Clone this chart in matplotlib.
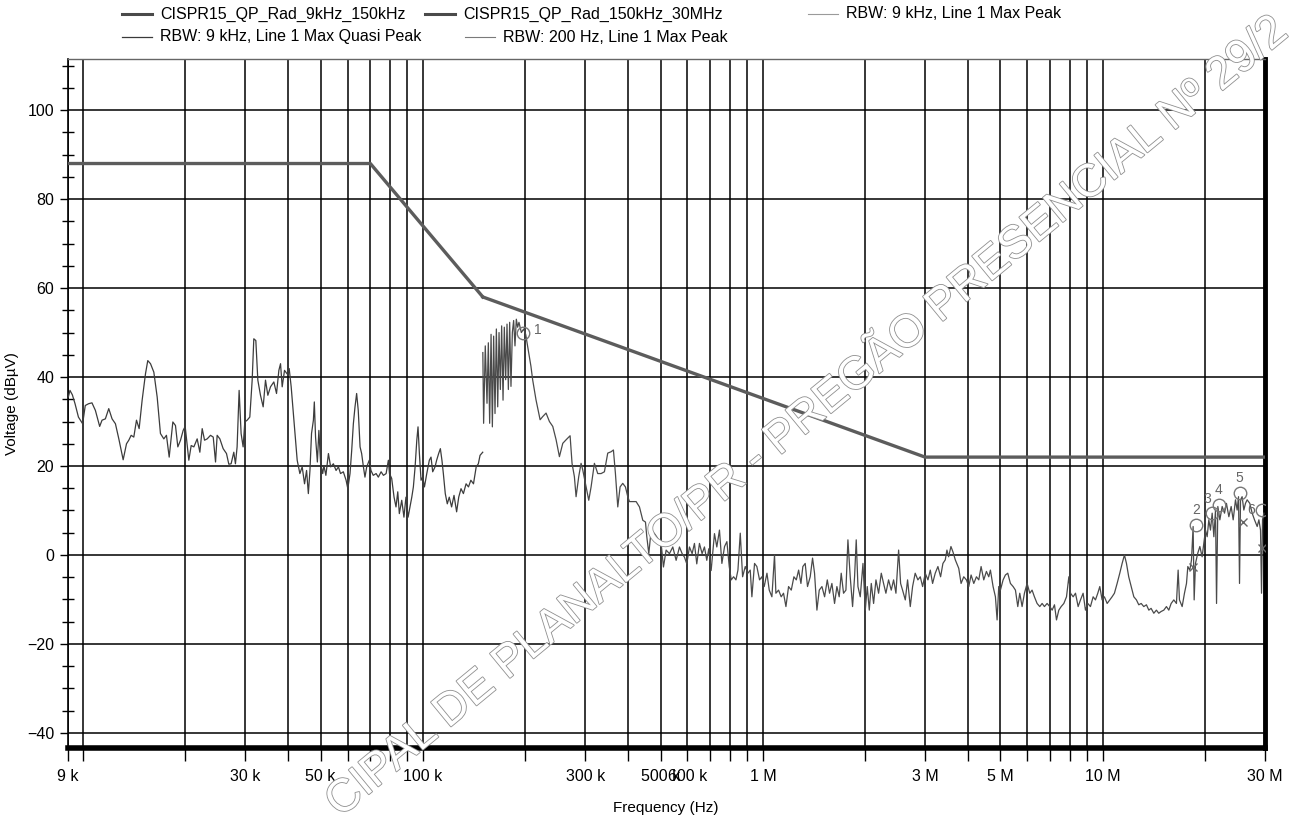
import numpy as np
import matplotlib
matplotlib.use("Agg")
import matplotlib.pyplot as plt
from matplotlib.lines import Line2D
from matplotlib.ticker import FixedLocator, FixedFormatter, MultipleLocator
import matplotlib.patheffects as pe

plt.rcParams['font.family'] = ['Liberation Sans Narrow', 'Liberation Sans', 'DejaVu Sans']

# limit lines (kHz, dBuV)
lim1_f = [9, 70, 150]
lim1_v = [88, 88, 58]
lim2_f = [150, 3000, 30000]
lim2_v = [58, 22, 22]

# RBW 200 Hz peak trace, 9 kHz - 150 kHz
pk200_f = [9.05, 9.15, 9.3, 9.47, 9.69, 9.97, 10.15, 10.38, 10.62, 10.87, 11.19, 11.37, 11.63, 11.9,
           12.17, 12.45, 12.74, 13.12, 13.42, 13.63, 13.85, 14.1, 14.36, 14.62, 14.92, 15.26, 15.5,
           15.79, 16.15, 16.52, 16.89, 17.28, 17.59, 17.92, 18.37, 18.7, 19.0, 19.35, 19.7, 19.97,
           20.47, 20.8, 21.18, 21.66, 22.06, 22.41, 22.77, 23.18, 23.71, 24.15, 24.53, 24.8, 25.26,
           25.83, 26.42, 26.84, 27.26, 27.76, 28.07, 28.39, 28.78, 29.17, 29.57, 29.91, 30.39, 30.94,
           31.44, 31.79, 32.23, 32.67, 33.26, 33.87, 34.41, 34.96, 35.6, 36.41, 37.08, 37.67, 38.1,
           38.53, 39.14, 39.85, 40.4, 40.95, 41.7, 42.65, 43.43, 44.12, 44.83, 45.45,
           46.0, 46.5, 47.0, 47.6, 47.9, 48.3, 48.9, 49.4, 50.0, 50.7, 51.1, 51.8, 52.7, 53.5, 54.5,
           55.5, 56.4, 57.2, 58.3, 59.4, 60.1, 61.0, 61.7, 62.4, 63.1, 63.8, 64.5, 65.3, 66.0, 66.8,
           67.5, 68.3, 69.5, 70.3, 71.4, 72.8, 73.9, 75.3, 76.5, 77.9, 79.1, 79.7, 80.9, 82.2, 83.3,
           84.3, 85.2, 86.6, 87.9, 89.1, 90.4, 91.6, 92.7, 93.7, 94.8, 95.9, 96.7, 97.6, 98.7, 99.8,
           101.0, 102.6, 104.4, 105.6, 106.8, 108.5, 109.7, 111.2, 112.5, 113.7, 114.8, 116.3, 117.9,
           119.5, 121.4, 123.4, 125.6, 127.4, 129.4, 131.5, 133.9, 136.1, 138.3, 140.8, 143.4, 145.5,
           147.2, 149.9]
pk200_v = [35.5, 37.0, 36.0, 34.0, 31.0, 29.5, 33.6, 34.0, 34.2, 32.5, 28.9, 30.3, 30.6, 32.9,
           30.6, 29.5, 26.1, 21.4, 25.0, 25.8, 26.9, 26.5, 30.3, 28.4, 34.8, 40.7, 43.7,
           43.0, 41.1, 35.5, 27.3, 26.1, 26.9, 22.0, 29.9, 29.1, 24.3, 25.8, 28.0, 28.9,
           21.3, 24.6, 24.3, 26.1, 23.1, 28.4, 25.8, 26.1, 26.9, 26.5, 20.9, 26.9, 26.1,
           23.9, 22.8, 20.4, 20.5, 23.1, 20.5, 24.3, 37.0, 27.3, 24.3, 29.9, 30.3, 31.0,
           39.3, 48.6, 48.2, 39.3, 35.9, 33.3, 39.3, 35.9, 37.8, 38.9, 36.3, 41.5, 43.0,
           37.8, 41.5, 40.7, 41.9, 37.8, 30.3, 21.3, 18.3, 19.8, 16.0, 19.0,
           13.8, 19.0, 27.3, 30.3, 34.4, 26.5, 20.9, 28.0, 20.5, 18.3, 20.1, 17.9, 22.8, 19.8, 20.5,
           19.0, 19.8, 18.3, 18.7, 16.8, 14.9, 18.3, 23.5, 29.5, 33.3, 36.3, 32.5, 24.3, 22.8, 19.8,
           17.5, 19.8, 21.3, 19.0, 17.9, 18.3, 17.5, 18.7, 17.9, 18.3, 21.3, 18.3, 17.2, 13.0, 10.8,
           14.2, 9.3, 12.3, 8.5, 13.0, 8.5, 10.8, 13.0, 15.3, 19.8, 25.8, 28.8, 22.8, 16.8, 17.5,
           15.3, 18.3, 21.3, 22.0, 18.7, 19.8, 21.3, 22.8, 23.9, 21.3, 18.3, 13.8, 11.5,
           13.0, 10.8, 13.4, 9.7, 13.0, 14.9, 13.8, 16.0, 15.3, 16.8, 16.0, 19.8, 20.5,
           22.4, 23.1]

# RBW 9 kHz peak trace, 150 kHz - 30 MHz
pk9k_f = [150.0, 150.8, 152.5, 154.3, 155.7, 157.1, 158.6, 160.0, 161.4, 162.9, 164.4, 165.9, 167.4,
          168.9, 170.4, 172.0, 173.5, 175.1, 176.7, 178.3, 179.9, 181.5, 183.2, 184.8, 186.5, 188.2,
          189.9, 191.6, 194.7, 197.8, 200.5,
          203.2, 207.8, 210.2, 215.0, 221.1, 225.0, 230.2, 235.5, 240.9, 246.4, 252.0, 257.8, 263.7,
          270.9, 274.5, 278.9, 282.1, 287.2, 291.8, 295.2, 301.9, 307.4, 312.3, 319.4, 326.7, 334.2,
          341.8, 349.6, 357.6, 363.3, 368.3, 374.2, 380.1, 387.0, 394.1, 400.4, 405.0, 414.2, 423.7,
          433.4, 443.3, 451.4, 455.5, 461.7, 469.1, 479.8, 490.7, 501.9, 509.9, 519.2, 531.0, 543.2,
          555.6, 568.3, 578.7, 587.9, 597.2, 608.1, 619.2, 629.0, 639.0, 650.7, 662.5, 673.1, 683.8,
          693.2, 704.3, 720.4, 731.9, 745.2,
          757.5, 771.3, 783.7, 796.2, 807.1, 820.0, 833.2, 844.5, 857.9, 871.6, 887.5, 903.6, 917.8,
          928.2, 945.1, 960.0, 977.7, 993.3, 1009, 1028, 1044, 1063, 1082, 1092, 1112, 1132, 1150,
          1169, 1190, 1212, 1234, 1254, 1274, 1294, 1311, 1332, 1353, 1378, 1400, 1419, 1442, 1465,
          1492, 1519, 1547, 1571, 1596, 1625, 1651, 1677, 1700, 1727, 1755, 1779, 1807, 1836, 1861,
          1882, 1904, 1934, 1970, 2001, 2028, 2056, 2084, 2117, 2151, 2190, 2230, 2265, 2301, 2343,
          2386, 2424, 2463, 2508, 2542, 2576, 2624, 2665, 2714, 2757, 2806, 2858, 2904, 2951, 3004,
          3059, 3108, 3157, 3214, 3273, 3333, 3386, 3440, 3479, 3519, 3575, 3624, 3682, 3749,
          3769, 3829, 3899, 3970, 4034, 4098, 4173, 4249, 4317, 4385, 4465, 4546, 4619, 4671, 4756,
          4832, 4887, 4942, 4998, 5090, 5170, 5253, 5349, 5447, 5534, 5622, 5698, 5789, 5882, 5989,
          6099, 6194, 6293, 6408, 6525, 6630, 6735, 6858, 6984, 7096, 7209, 7307, 7424, 7543, 7681,
          7821, 7946, 8036, 8181, 8312, 8462, 8598, 8752, 8892, 9034, 9198, 9367, 9515, 9667, 9799,
          9954, 10110, 10300, 10490, 10650, 10820, 11020, 11220, 11400, 11580, 11740, 11920, 12120,
          12340, 12560, 12760, 12970, 13200, 13440, 13660, 13870, 14130, 14380, 14610, 14850, 15120,
          15390, 15640, 15890, 16180, 16470, 16660, 16810, 17120, 17390, 17630, 17790, 18030, 18240,
          18440, 18570, 18740, 19030, 19300, 19600, 19830, 20050, 20280, 20510, 20740, 20980, 21220,
          21460, 21610, 21800, 22100, 22450, 22810, 23110, 23490, 23860, 24190, 24570, 24850, 25080,
          25250, 25420, 25700, 26000, 26290, 26590, 27070, 27510, 27950, 28460, 28790, 29110, 29310,
          29510, 29780]
pk9k_v = [45.5, 29.6, 47.0, 34.1, 47.7, 29.6, 49.6, 28.8, 49.2, 31.8, 50.8, 33.3, 50.0,
          37.2, 51.5, 34.8, 51.2, 39.4, 51.9, 37.2, 52.3, 37.9, 50.0, 52.7, 47.0, 53.0,
          51.2, 52.3, 50.0, 50.8, 49.6,
          46.9, 42.4, 39.4, 34.9, 30.4, 31.1, 31.9, 30.0, 28.9, 25.9, 22.1, 25.1, 25.9,
          26.8, 20.6, 17.6, 13.1, 17.6, 20.6, 19.1, 15.3, 12.3, 15.3, 20.6, 18.3, 18.3,
          18.7, 22.9, 23.2, 23.6, 18.3, 10.8, 15.3, 16.1, 15.3, 13.1, 12.0, 12.0, 12.0,
          10.8, 7.8, 7.4, 4.1, 0.3, 5.6, 4.8, 3.7, 2.6, -2.7, 1.1, 0.3, 1.8,
          -1.2, 1.8, 0.3, -0.5, -2.0, 1.8, 0.3, 2.6, -2.0, 2.6, 0.3, 1.8, -1.2,
          1.4, -3.5, 4.8, 1.8, 5.6,
          -1.9, 1.9, 3.0, -2.6, -5.6, -4.9, -5.6, -3.4, 4.9, -4.9, -2.6, -4.1, -3.4,
          -9.4, -1.9, -2.6, -5.6, -4.9, -7.1, -4.1, -7.9, -9.4, 0.0, -8.6, -7.9, -9.4, -8.6,
          -11.6, -7.1, -7.9, -4.9, -5.6, -3.4, -6.4, -2.6, -1.9, -7.1, -4.9, -0.7, -4.1, -12.4, -7.9,
          -7.1, -9.4, -5.6, -8.6, -6.4, -10.9, -7.1, -9.4, -4.1, -8.6, -7.9, 3.4, -4.9, -11.6, -4.9,
          3.4, -7.1, -9.4, -1.9, -12.4, -7.1, -12.4, -6.4, -10.9, -5.6, -8.6, -4.1, -6.4, -8.6, -5.6,
          -7.9, -5.6, -8.6, 1.1, -6.4, -7.9, -10.1, -5.6, -11.6, -7.1, -4.1, -5.6, -4.9, -7.1, -4.1,
          -5.6, -3.4, -6.4, -4.1, -2.6, -4.9, -1.9, -1.1, 1.1, -0.4, 1.9, 0.7, -1.1, -2.6,
          -3.0, -6.4, -4.9, -5.6, -7.1, -4.5, -6.4, -4.9, -5.6, -2.6, -5.6, -3.7, -4.9, -3.4, -7.1,
          -9.4, -14.6, -7.1, -7.9, -5.6, -4.5, -4.1, -6.4, -7.1, -7.9, -11.6, -8.6, -11.6, -8.6, -6.4,
          -8.6, -7.9, -9.4, -10.9, -11.6, -10.9, -11.6, -10.9, -11.6, -12.4, -11.2, -14.6, -12.4, -11.6, -10.9,
          -9.4, -4.9, -8.6, -9.4, -8.6, -11.6, -10.1, -8.6, -12.4, -10.9, -11.6, -9.4, -10.1, -8.6, -7.1,
          -10.1, -9.4, -10.9, -10.1, -9.4, -8.6, -6.4, -4.1, -1.9, 0.0, -1.9, -4.9, -7.1,
          -9.4, -10.1, -11.2, -10.9, -11.6, -11.2, -12.4, -12.0, -13.1, -12.4, -13.1, -12.7, -12.4,
          -11.6, -12.4, -10.9, -10.1, -10.9, -3.4, -10.1, -11.6, -8.6, -6.4, -2.6, -3.4, -1.1,
          6.4, -10.1, -1.9, 0.4, 1.9, -0.4, 2.6, 5.6, 4.1, 7.9, 5.6, 9.4, 4.1,
          10.1, -10.9, 10.9, 7.9, 10.9, 9.4, 11.6, 8.6, 10.9, 7.9, 12.4, 10.1, 13.1,
          -6.4, 12.4, 13.1, 10.1, 11.6, 12.4, 11.6, 9.4, 7.9, 6.4, 7.9, 5.6, -8.6,
          7.9, 9.4]

# peak markers
mark_f = [197, 18850, 20900, 21900, 25300, 29400]
mark_v = [50.0, 6.7, 9.4, 11.2, 13.9, 10.1]
mark_lbl = ['1', '2', '3', '4', '5', '6']
# quasi-peak readings
qp_f = [18400, 25900, 29400]
qp_v = [-2.6, 7.5, 1.5]

major_f = [9, 30, 50, 100, 300, 500, 600, 1000, 3000, 5000, 10000, 30000]
major_lbl = ['9 k', '30 k', '50 k', '100 k', '300 k', '500 k', '600 k',
             '1 M', '3 M', '5 M', '10 M', '30 M']

fig = plt.figure(figsize=(13.01, 8.33), dpi=100)
ax = fig.add_axes([0.0519, 0.102, 0.9204, 0.8272])

k = 1e3
ax.plot(np.array(lim1_f) * k, lim1_v, color='#5c5c5c', lw=2.4, zorder=4)
ax.plot(np.array(lim2_f) * k, lim2_v, color='#5c5c5c', lw=2.4, zorder=4)
ax.plot(np.array(pk200_f) * k, pk200_v, color='#3c3c3c', lw=0.9, zorder=3)
ax.plot(np.array(pk9k_f) * k, pk9k_v, color='#4a4a4a', lw=0.9, zorder=3)

ax.plot(np.array(mark_f) * k, mark_v, ls='none', marker='o', ms=9, mfc='none',
        mec='#777777', mew=1.0, zorder=5)
ax.plot(np.array(qp_f) * k, qp_v, ls='none', marker='x', ms=6, mec='#666666', mew=1.0, zorder=5)
offs = {'1': (8, 2, 'left', 'center'), '3': (-3, 5, 'center', 'bottom'),
        '6': (-5, 0, 'right', 'center')}
for f, v, s in zip(mark_f, mark_v, mark_lbl):
    dx, dy, ha, va = offs.get(s, (0, 6, 'center', 'bottom'))
    ax.annotate(s, (f * k, v), xytext=(dx, dy), textcoords='offset points',
                ha=ha, va=va, fontsize=10, color='#666666', zorder=6)

ax.set_xscale('log')
ax.set_xlim(9e3, 30e6)
ax.set_ylim(-43.4, 111.5)

ax.xaxis.set_major_locator(FixedLocator(np.array(major_f) * k))
ax.xaxis.set_major_formatter(FixedFormatter(major_lbl))
grid_f = []
for dec in [1e4, 1e5, 1e6, 1e7]:
    for m in range(1, 10):
        if m * dec < 30e6:
            grid_f.append(m * dec)
ax.xaxis.set_minor_locator(FixedLocator(grid_f))
ax.xaxis.set_minor_formatter(FixedFormatter([''] * len(grid_f)))
ax.yaxis.set_major_locator(MultipleLocator(20))
ax.yaxis.set_minor_locator(MultipleLocator(5))

ax.grid(True, axis='x', which='both', color='black', lw=1.1)
ax.grid(True, axis='y', which='major', color='black', lw=1.1)
ax.set_axisbelow(True)

ax.tick_params(axis='x', which='both', direction='out', length=9, width=1.0, pad=6, labelsize=11.5)
ax.tick_params(axis='y', which='major', direction='out', length=6, width=1.0, labelsize=11.5)
ax.tick_params(axis='y', which='minor', direction='inout', length=9, width=1.0)

ax.spines['left'].set_linewidth(1.2)
ax.spines['top'].set_linewidth(1.0)
ax.spines['top'].set_color('#666666')
ax.spines['bottom'].set_linewidth(4.0)
ax.spines['right'].set_linewidth(3.5)

ax.set_xlabel('Frequency (Hz)', fontsize=11, labelpad=12)
ax.set_ylabel('Voltage (dBµV)', fontsize=11, labelpad=6)

# legend rows above the plot
leg = [
    (122, 14, 'CISPR15_QP_Rad_9kHz_150kHz', '#4a4a4a', 2.2),
    (425, 14, 'CISPR15_QP_Rad_150kHz_30MHz', '#4a4a4a', 2.2),
    (808, 14, 'RBW: 9 kHz, Line 1 Max Peak', '#9a9a9a', 0.8),
    (122, 37, 'RBW: 9 kHz, Line 1 Max Quasi Peak', '#3a3a3a', 0.9),
    (465, 37, 'RBW: 200 Hz, Line 1 Max Peak', '#7a7a7a', 0.8),
]
W, H = 1301.0, 833.0
for x0, y0, txt, col, lw in leg:
    fig.add_artist(Line2D([x0 / W, (x0 + 30) / W], [1 - y0 / H, 1 - y0 / H],
                          color=col, lw=lw, transform=fig.transFigure))
    fig.text((x0 + 38) / W, 1 - y0 / H, txt, fontsize=11.5, va='center', ha='left')

# stamp across the page
fig.text(340 / W, 1 - 818 / H, 'CIPAL DE PLANALTO/PR - PREGÃO PRESENCIAL Nº 29/2',
         rotation=39.5, rotation_mode='anchor', ha='left', va='baseline',
         fontsize=33, color='white', family='Liberation Sans',
         path_effects=[pe.withStroke(linewidth=1.2, foreground='#8f8f8f')], zorder=10)

fig.savefig('out.png', dpi=100)
